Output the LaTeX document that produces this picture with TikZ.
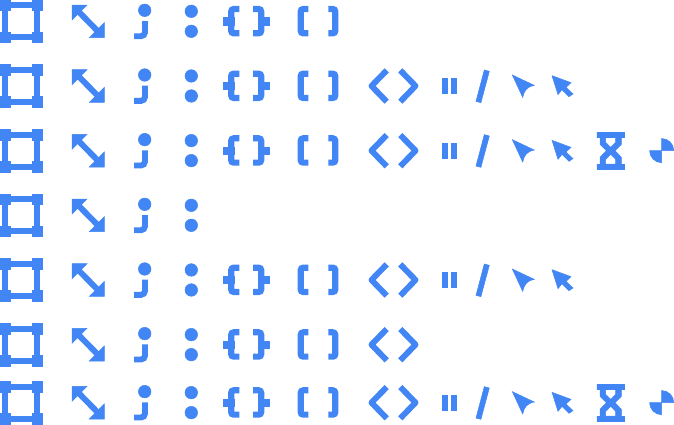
\documentclass[tikz,border=0pt]{standalone}
\definecolor{iconblue}{HTML}{4285F4}
\tikzset{
  iconfill/.style={fill=iconblue,draw=iconblue,line width=0.5pt},
  iconline/.style={draw=iconblue,line width=5.9pt,fill=none},
  roundline/.style={iconline,line width=6.2pt,rounded corners=2.5pt},
}
\newcommand{\iconsA}{%
  % frame
  \path[iconfill] (0,0) rectangle (10.67,10.67) (32,0) rectangle (42.67,10.67)
    (0,32) rectangle (10.67,42.67) (32,32) rectangle (42.67,42.67);
  \draw[iconline] (5.33,5.33) rectangle (37.33,37.33);
  % double arrow
  \path[iconfill] (72,5) -- (87,5) -- (72,20) -- cycle (104.3,37.7) -- (89.3,37.7) -- (104.3,22.7) -- cycle;
  \draw[iconline] (78,11) -- (98.3,31.7);
  % dot and j
  \path[iconfill] (144.7,10.3) circle (6.3);
  \draw[iconline,rounded corners=4pt] (145,21) -- (145,36.2) -- (134,36.2);
  % colon
  \path[iconfill] (191.3,11.3) circle (6.3) (191.3,31.3) circle (6.3);
}
\newcommand{\iconsB}{%
  % braces
  \draw[roundline] (239.3,9) -- (231.2,9) -- (231.2,33.3) -- (239.3,33.3);
  \path[iconfill] (223.5,17.7) rectangle (234,25);
  \draw[roundline] (253,9) -- (261.2,9) -- (261.2,33.3) -- (253,33.3);
  \path[iconfill] (258.5,17.7) rectangle (268.8,25);
  % brackets
  \draw[roundline] (308.3,9) -- (300.7,9) -- (300.7,33.3) -- (308.3,33.3);
  \draw[roundline] (328.3,9) -- (335.3,9) -- (335.3,33.3) -- (328.3,33.3);
}
\newcommand{\iconsC}{%
  % angle brackets
  \draw[iconline,line join=round] (386.7,5.7) -- (371.5,21.3) -- (386.7,37);
  \draw[iconline,line join=round] (400.3,5.7) -- (415.5,21.3) -- (400.3,37);
}
\newcommand{\iconsD}{%
  % pause
  \path[iconfill] (442.5,13.9) rectangle (447.3,28.5) (451.7,13.9) rectangle (456.5,28.5);
  % slash
  \path[iconfill] (484.3,5.3) -- (489.3,6.7) -- (480.9,38) -- (476,36.7) -- cycle;
  % cursors
  \path[iconfill] (512.3,10.3) -- (534.3,20.7) .. controls (527,22) and (524,26) .. (522.7,32.7) -- cycle;
  \path[iconfill] (552,11) -- (571,18) -- (566,22.7) -- (573,29.3) -- (569,32) -- (562,25) -- (558,30) -- cycle;
}
\newcommand{\iconsE}{%
  % hourglass
  \path[iconfill] (596.9,2.87) rectangle (624.5,8.3)
    (596.9,34.7) rectangle (624.5,39.8);
  \path[iconfill,even odd rule] (600,8) -- (621.4,8) -- (621.4,15) -- (615,21.3) -- (621.4,28) -- (621.4,35) -- (600,35) -- (600,28) -- (606.4,21.3) -- (600,15) -- cycle
    (605.7,8.3) -- (615.7,8.3) -- (615.7,13) -- (610.7,18) -- (605.7,13) -- cycle
    (605.7,34.7) -- (615.7,34.7) -- (615.7,30) -- (610.7,25) -- (605.7,30) -- cycle;
  % quarter circles
  \path[iconfill] (661.7,21.3) -- (649.6,21.3) arc[start angle=180,end angle=90,radius=12.1] -- cycle;
  \path[iconfill] (661.7,21.3) -- (673.8,21.3) arc[start angle=0,end angle=-90,radius=12.1] -- cycle;
}
\begin{document}
\begin{tikzpicture}[x=1pt,y=-1pt]
\useasboundingbox (0,0) rectangle (674,424);
\begin{scope}[shift={(0,0)}]\iconsA\iconsB\end{scope}
\begin{scope}[shift={(0,64.67)}]\iconsA\iconsB\iconsC\iconsD\end{scope}
\begin{scope}[shift={(0,129.33)}]\iconsA\iconsB\iconsC\iconsD\iconsE\end{scope}
\begin{scope}[shift={(0,194)}]\iconsA\end{scope}
\begin{scope}[shift={(0,258.67)}]\iconsA\iconsB\iconsC\iconsD\end{scope}
\begin{scope}[shift={(0,323.33)}]\iconsA\iconsB\iconsC\end{scope}
\begin{scope}[shift={(0,381.33)}]\iconsA\iconsB\iconsC\iconsD\iconsE\end{scope}
\end{tikzpicture}
\end{document}
